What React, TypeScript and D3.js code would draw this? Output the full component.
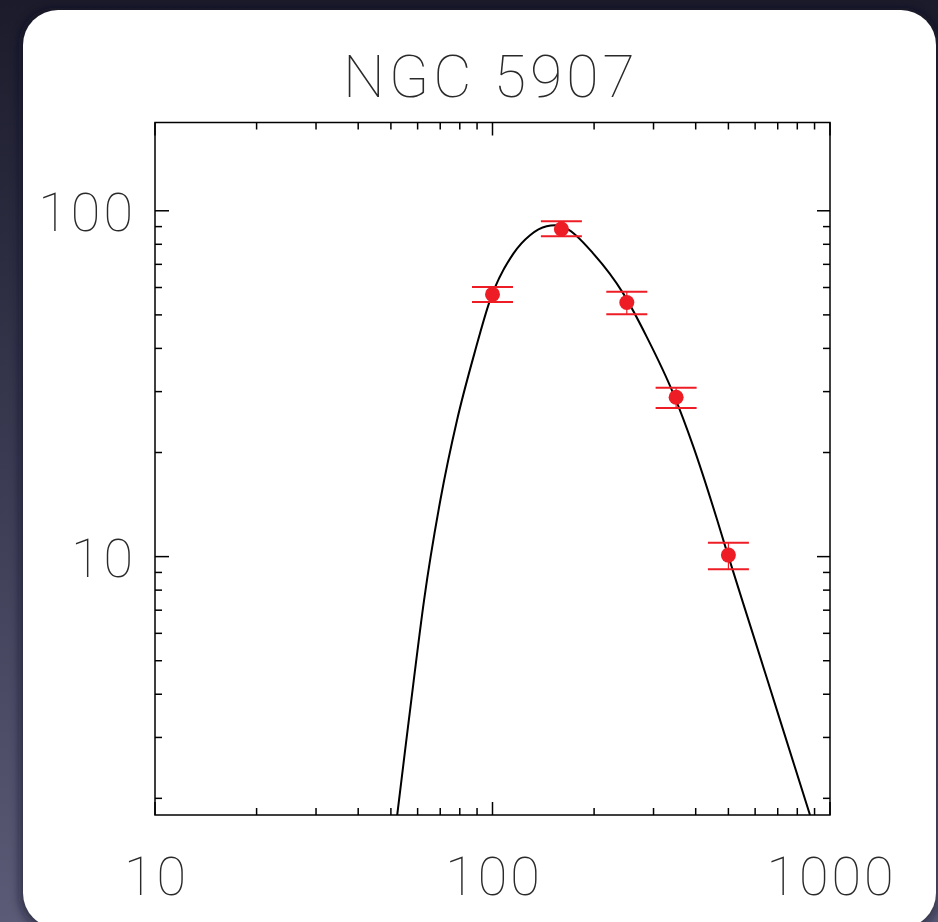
import React from "react";
import * as d3 from "d3";

const title = "NGC 5907";
const pointX = [100, 160, 250, 350, 500];
const pointY = [57.3, 88.6, 54.3, 28.9, 10.1];
const errLow = [54.5, 84.4, 50.2, 26.9, 9.2];
const errHigh = [60.2, 93.3, 58.3, 30.8, 10.96];

const curveX = [52.2, 55.1, 58.3, 62.7, 70.1, 78.5, 88.4, 98.3, 115.3, 129.2, 144.7, 153.2, 165.9, 198.9, 244.2, 286.4, 343.4, 393.6, 462.7, 486.0, 589.9, 706.3, 872.5];
const curveY = [1.79, 2.76, 4.31, 7.49, 14.6, 24.8, 38.7, 55.1, 75.2, 85.0, 90.2, 90.8, 88.8, 75.2, 57.6, 43.2, 29.6, 20.8, 12.8, 10.94, 6.01, 3.44, 1.79];

const xMajor = [10, 100, 1000];
const xMajorLabels = ["10", "100", "1000"];
const yMajor = [10, 100];
const yMajorLabels = ["10", "100"];

const W = 938;
const H = 922;
const L = 155, R = 830, T = 122.5, B = 815;

export default function App() {
  const x = d3.scaleLog().domain([10, 1000]).range([L, R]);
  const y = d3.scaleLog().domain([1.79, 180]).range([B, T]);

  const xMinor: number[] = [];
  [10, 100].forEach((d) => { for (let k = 2; k <= 9; k++) xMinor.push(d * k); });
  const yMinor: number[] = [];
  [1, 10, 100].forEach((d) => { for (let k = 2; k <= 9; k++) { const v = d * k; if (v >= 1.79 && v <= 180) yMinor.push(v); } });

  const line = d3.line<number>()
    .x((_, i) => x(curveX[i]))
    .y((_, i) => y(curveY[i]))
    .curve(d3.curveMonotoneX);
  const pathD = line(curveX) || "";

  const red = "#ee1c25";
  const font = "Roboto, 'Open Sans', sans-serif";
  const txt = "#2a2a2a";

  return (
    <svg width={W} height={H} style={{ position: "absolute", left: 0, top: 0 }}>
      <defs>
        <linearGradient id="bg" x1="0" y1="0" x2="0" y2="1">
          <stop offset="0" stopColor="#1b1b2b" />
          <stop offset="0.5" stopColor="#3a3a52" />
          <stop offset="1" stopColor="#5b5b77" />
        </linearGradient>
        <filter id="sh" x="-10%" y="-10%" width="120%" height="120%">
          <feGaussianBlur stdDeviation="4" />
        </filter>
        <clipPath id="plotclip">
          <rect x={L} y={T} width={R - L} height={B - T} />
        </clipPath>
      </defs>
      <rect x={0} y={0} width={W} height={H} fill="url(#bg)" />
      <rect x={19} y={8} width={920} height={924} rx={36} fill="#111122" opacity={0.5} filter="url(#sh)" />
      <rect x={23} y={10} width={913} height={918} rx={35} fill="#ffffff" />

      <text x={491} y={97} textAnchor="middle" fontFamily={font} fontWeight={100} fontSize={59} letterSpacing={4} fill={txt}>{title}</text>

      {/* curve */}
      <path d={pathD} fill="none" stroke="#000" strokeWidth={2} clipPath="url(#plotclip)" />

      {/* frame */}
      <rect x={L} y={T} width={R - L} height={B - T} fill="none" stroke="#000" strokeWidth={1.5} />

      {/* x ticks */}
      {xMajor.map((v, i) => (
        <g key={"xm" + i}>
          <line x1={x(v)} x2={x(v)} y1={B} y2={B - 13} stroke="#000" strokeWidth={1.5} />
          <line x1={x(v)} x2={x(v)} y1={T} y2={T + 13} stroke="#000" strokeWidth={1.5} />
          <text x={x(v) + 1.5} y={895} textAnchor="middle" fontFamily={font} fontWeight={100} fontSize={54} letterSpacing={3} fill={txt}>{xMajorLabels[i]}</text>
        </g>
      ))}
      {xMinor.map((v, i) => (
        <g key={"xn" + i}>
          <line x1={x(v)} x2={x(v)} y1={B} y2={B - 7} stroke="#000" strokeWidth={1.5} />
          <line x1={x(v)} x2={x(v)} y1={T} y2={T + 7} stroke="#000" strokeWidth={1.5} />
        </g>
      ))}

      {/* y ticks */}
      {yMajor.map((v, i) => (
        <g key={"ym" + i}>
          <line x1={L} x2={L + 14} y1={y(v)} y2={y(v)} stroke="#000" strokeWidth={1.5} />
          <line x1={R} x2={R - 13} y1={y(v)} y2={y(v)} stroke="#000" strokeWidth={1.5} />
          <text x={136} y={y(v) + 20} textAnchor="end" fontFamily={font} fontWeight={100} fontSize={54} letterSpacing={3} fill={txt}>{yMajorLabels[i]}</text>
        </g>
      ))}
      {yMinor.map((v, i) => (
        <g key={"yn" + i}>
          <line x1={L} x2={L + 7} y1={y(v)} y2={y(v)} stroke="#000" strokeWidth={1.5} />
          <line x1={R} x2={R - 7} y1={y(v)} y2={y(v)} stroke="#000" strokeWidth={1.5} />
        </g>
      ))}

      {/* data points with error bars */}
      {pointX.map((v, i) => {
        const cx = x(v);
        return (
          <g key={"p" + i}>
            <line x1={cx} x2={cx} y1={y(errLow[i])} y2={y(errHigh[i])} stroke={red} strokeWidth={1.2} />
            <line x1={cx - 20.5} x2={cx + 20.5} y1={y(errLow[i])} y2={y(errLow[i])} stroke={red} strokeWidth={2} />
            <line x1={cx - 20.5} x2={cx + 20.5} y1={y(errHigh[i])} y2={y(errHigh[i])} stroke={red} strokeWidth={2} />
            <circle cx={cx} cy={y(pointY[i])} r={7.5} fill={red} />
          </g>
        );
      })}
    </svg>
  );
}
